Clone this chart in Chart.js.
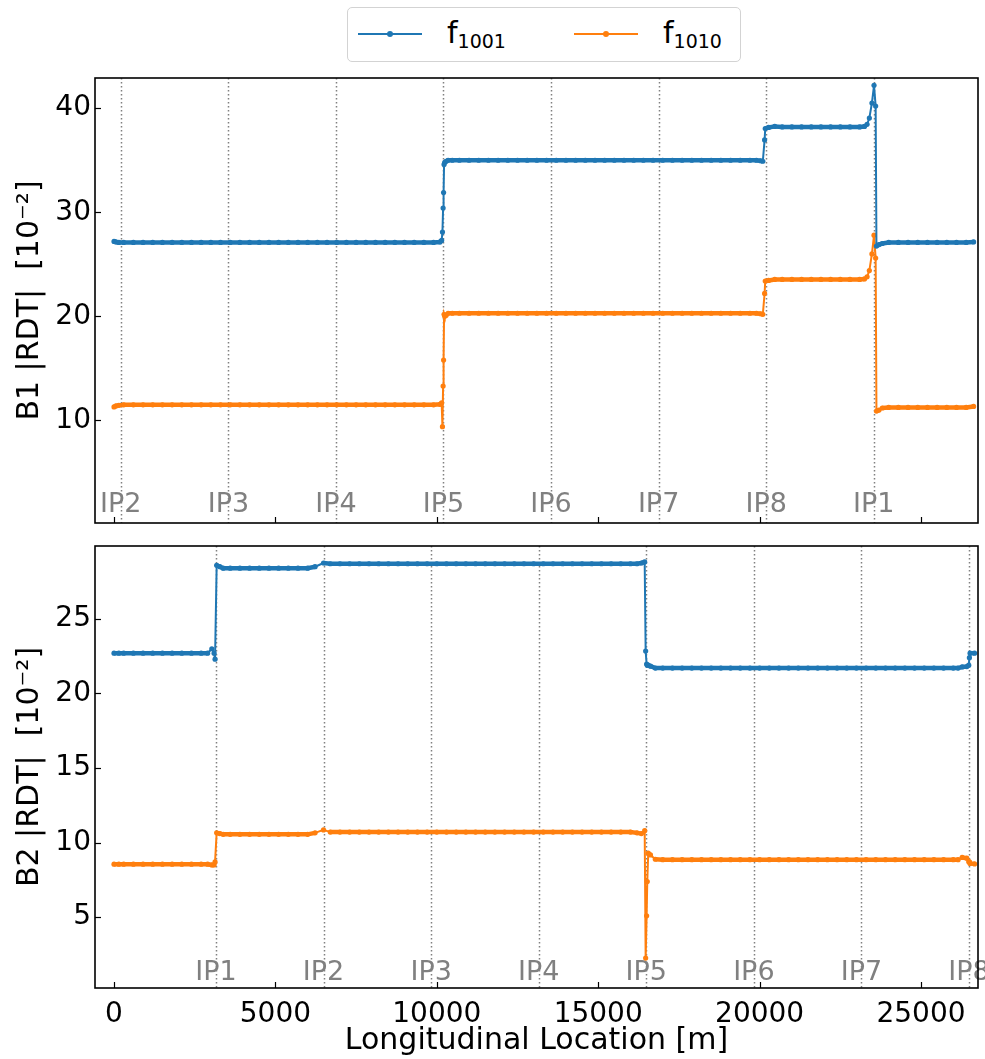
<!DOCTYPE html>
<html>
<head>
<meta charset="utf-8">
<script src="https://cdn.jsdelivr.net/npm/chart.js@4.4.1/dist/chart.umd.min.js"></script>
<style>
    body { margin: 0; background: #fff; }
    #fig { position: relative; width: 985px; height: 1059px; overflow: hidden; font-family: "DejaVu Sans"; }
    #topChart { position: absolute; left: 0; top: 70px; }
    #botChart { position: absolute; left: 0; top: 530px; }
    .legend { position: absolute; left: 347px; top: 7px; width: 392px; height: 53px; border: 1px solid #d3d3d3; border-radius: 5px; box-sizing: content-box; }
    .sample { position: absolute; top: 25px; width: 64px; height: 2px; }
    .dot { position: absolute; left: 29px; top: -2px; width: 6px; height: 6px; border-radius: 50%; }
    .lab { position: absolute; top: 10px; font-size: 30px; line-height: 30px; color: #000; white-space: nowrap; }
    .lab span { font-size: 19px; position: relative; top: 5px; }
</style>
</head>
<body>
<div id="fig">
    <!-- legend -->
    <div class="legend">
        <div class="sample" style="left:10px;background:#1f77b4"><div class="dot" style="background:#1f77b4"></div></div>
        <div class="lab" style="left:99px">f<span>1001</span></div>
        <div class="sample" style="left:226px;background:#ff7f0e"><div class="dot" style="background:#ff7f0e"></div></div>
        <div class="lab" style="left:315px">f<span>1010</span></div>
    </div>
    <canvas id="topChart" width="985" height="460"></canvas>
    <canvas id="botChart" width="985" height="529"></canvas>
</div>

<script>
// longitudinal positions of the points (m) and the RDT amplitudes (1e-2)
const B1_S = [
    0, 60, 150, 300,
    600, 900, 1200, 1500, 1800, 2100, 2400, 2700, 3000, 3300, 3600, 3900, 4200, 4500, 4800, 5100, 5400, 5700, 6000, 6300, 6600, 6900, 7200, 7500, 7800, 8100, 8400, 8700, 9000, 9300, 9600, 9900,
    10100, 10150, 10175, 10195, 10210, 10225, 10245, 10290, 10350, 10480,
    10700, 11000, 11300, 11600, 11900, 12200, 12500, 12800, 13100, 13400, 13700, 14000, 14300, 14600, 14900, 15200, 15500, 15800, 16100, 16400, 16700, 17000, 17300, 17600, 17900, 18200, 18500, 18800, 19100, 19400, 19700,
    19900, 20025, 20100, 20155, 20175, 20280, 20470,
    20700, 21000, 21300, 21600, 21900, 22200, 22500, 22800, 23100,
    23250, 23330, 23400, 23480, 23545, 23595, 23620, 23700, 23800,
    24000, 24300, 24600, 24900, 25200, 25500, 25800, 26100, 26400, 26630
]
const B1_F1001 = [
    27.2, 27.15, 27.1, 27.1,
    27.1, 27.1, 27.1, 27.1, 27.1, 27.1, 27.1, 27.1, 27.1, 27.1, 27.1, 27.1, 27.1, 27.1, 27.1, 27.1, 27.1, 27.1, 27.1, 27.1, 27.1, 27.1, 27.1, 27.1, 27.1, 27.1, 27.1, 27.1, 27.1, 27.1, 27.1, 27.1,
    27.15, 27.3, 28.1, 30.4, 31.9, 34.6, 34.8, 34.9, 35.0, 35.0,
    35.0, 35.0, 35.0, 35.0, 35.0, 35.0, 35.0, 35.0, 35.0, 35.0, 35.0, 35.0, 35.0, 35.0, 35.0, 35.0, 35.0, 35.0, 35.0, 35.0, 35.0, 35.0, 35.0, 35.0, 35.0, 35.0, 35.0, 35.0, 35.0, 35.0, 35.0,
    35.0, 34.95, 34.9, 36.95, 38.05, 38.15, 38.25,
    38.2, 38.2, 38.2, 38.2, 38.2, 38.2, 38.2, 38.2, 38.2,
    38.25, 38.45, 39.05, 40.5, 42.2, 40.2, 26.75, 26.9, 27.0,
    27.1, 27.1, 27.1, 27.1, 27.1, 27.1, 27.1, 27.1, 27.1, 27.15
]
const B1_F1010 = [
    11.3, 11.4, 11.45, 11.5,
    11.5, 11.5, 11.5, 11.5, 11.5, 11.5, 11.5, 11.5, 11.5, 11.5, 11.5, 11.5, 11.5, 11.5, 11.5, 11.5, 11.5, 11.5, 11.5, 11.5, 11.5, 11.5, 11.5, 11.5, 11.5, 11.5, 11.5, 11.5, 11.5, 11.5, 11.5, 11.5,
    11.55, 11.7, 9.4, 13.3, 15.8, 20.2, 20.0, 20.1, 20.3, 20.3,
    20.3, 20.3, 20.3, 20.3, 20.3, 20.3, 20.3, 20.3, 20.3, 20.3, 20.3, 20.3, 20.3, 20.3, 20.3, 20.3, 20.3, 20.3, 20.3, 20.3, 20.3, 20.3, 20.3, 20.3, 20.3, 20.3, 20.3, 20.3, 20.3, 20.3, 20.3,
    20.3, 20.25, 20.2, 22.2, 23.4, 23.45, 23.55,
    23.55, 23.55, 23.55, 23.55, 23.55, 23.55, 23.55, 23.55, 23.55,
    23.6, 23.8, 24.4, 26.0, 27.8, 25.6, 10.9, 11.0, 11.2,
    11.25, 11.25, 11.25, 11.25, 11.25, 11.25, 11.25, 11.25, 11.25, 11.35
]

const B2_S = [
    0, 150, 300, 600, 900, 1200, 1500, 1800, 2100, 2400, 2700,
    2900, 3030, 3100, 3130, 3180, 3280, 3380,
    3600, 3900, 4200, 4500, 4800, 5100, 5400, 5700, 6000,
    6230, 6490,
    6700, 7000, 7300, 7600, 7900, 8200, 8500, 8800, 9100, 9400, 9700, 10000, 10300, 10600, 10900, 11200, 11500, 11800, 12100, 12400, 12700, 13000, 13300, 13600, 13900, 14200, 14500, 14800, 15100, 15400, 15700, 16000,
    16200, 16340, 16440, 16470, 16500, 16520, 16550, 16620, 16770,
    17000, 17300, 17600, 17900, 18200, 18500, 18800, 19100, 19400, 19700, 20000, 20300, 20600, 20900, 21200, 21500, 21800, 22100, 22400, 22700, 23000, 23300, 23600, 23900, 24200, 24500, 24800, 25100, 25400, 25700, 26000,
    26150, 26275, 26420, 26480, 26500, 26520, 26660
]
const B2_F1001 = [
    22.7, 22.7, 22.7, 22.7, 22.7, 22.7, 22.7, 22.7, 22.7, 22.7, 22.7,
    22.7, 23.0, 22.7, 22.3, 28.6, 28.5, 28.4,
    28.4, 28.4, 28.4, 28.4, 28.4, 28.4, 28.4, 28.4, 28.4,
    28.5, 28.75,
    28.7, 28.7, 28.7, 28.7, 28.7, 28.7, 28.7, 28.7, 28.7, 28.7, 28.7, 28.7, 28.7, 28.7, 28.7, 28.7, 28.7, 28.7, 28.7, 28.7, 28.7, 28.7, 28.7, 28.7, 28.7, 28.7, 28.7, 28.7, 28.7, 28.7, 28.7, 28.7,
    28.7, 28.75, 28.82, 22.84, 21.97, 21.9, 21.9, 21.83, 21.7,
    21.7, 21.7, 21.7, 21.7, 21.7, 21.7, 21.7, 21.7, 21.7, 21.7, 21.7, 21.7, 21.7, 21.7, 21.7, 21.7, 21.7, 21.7, 21.7, 21.7, 21.7, 21.7, 21.7, 21.7, 21.7, 21.7, 21.7, 21.7, 21.7, 21.7, 21.7,
    21.7, 21.78, 21.8, 21.9, 22.4, 22.7, 22.7
]
const B2_F1010 = [
    8.55, 8.55, 8.55, 8.55, 8.55, 8.55, 8.55, 8.55, 8.55, 8.55, 8.55,
    8.55, 8.5, 8.5, 8.7, 10.65, 10.6, 10.55,
    10.55, 10.55, 10.55, 10.55, 10.55, 10.55, 10.55, 10.55, 10.55,
    10.65, 10.85,
    10.7, 10.7, 10.7, 10.7, 10.7, 10.7, 10.7, 10.7, 10.7, 10.7, 10.7, 10.7, 10.7, 10.7, 10.7, 10.7, 10.7, 10.7, 10.7, 10.7, 10.7, 10.7, 10.7, 10.7, 10.7, 10.7, 10.7, 10.7, 10.7, 10.7, 10.7, 10.7,
    10.65, 10.6, 10.8, 2.25, 5.09, 7.38, 9.29, 9.17, 8.88,
    8.85, 8.85, 8.85, 8.85, 8.85, 8.85, 8.85, 8.85, 8.85, 8.85, 8.85, 8.85, 8.85, 8.85, 8.85, 8.85, 8.85, 8.85, 8.85, 8.85, 8.85, 8.85, 8.85, 8.85, 8.85, 8.85, 8.85, 8.85, 8.85, 8.85, 8.85,
    8.85, 9.0, 8.95, 8.72, 8.7, 8.6, 8.57
]

// interaction points for each beam
const B1_IP_S = [211, 3543, 6875, 10207, 13539, 16871, 20203, 23535]
const B1_IP_NAMES = ['IP2', 'IP3', 'IP4', 'IP5', 'IP6', 'IP7', 'IP8', 'IP1']
const B2_IP_S = [3160, 6492, 9825, 13157, 16490, 19822, 23155, 26487]
const B2_IP_NAMES = ['IP1', 'IP2', 'IP3', 'IP4', 'IP5', 'IP6', 'IP7', 'IP8']

// ticks
const X_TICKS = [0, 5000, 10000, 15000, 20000, 25000]
const B1_Y_TICKS = [10, 20, 30, 40]
const B2_Y_TICKS = [5, 10, 15, 20, 25]

const BLUE = '#1f77b4'
const ORANGE = '#ff7f0e'
const FONT = 'DejaVu Sans'

const series = (s, v) => s.map((x, i) => ({ x: x, y: v[i] }))

// dotted IP lines + labels, black frame and inward ticks
const ipPlugin = {
    id: 'ipMarks',
    beforeDatasetsDraw(chart, args, opts) {
        const { ctx, chartArea: a, scales: { x } } = chart
        ctx.save()
        ctx.fillStyle = '#808080'
        ctx.font = '27px "' + FONT + '"'
        ctx.textAlign = 'center'
        ctx.textBaseline = 'alphabetic'
        opts.names.forEach((n, i) => {
            ctx.fillText(n, x.getPixelForValue(opts.pos[i]), a.bottom - opts.gap)
        })
        ctx.strokeStyle = '#808080'
        ctx.lineWidth = 1.5
        ctx.setLineDash([1.5, 2.5])
        opts.pos.forEach(s => {
            const px = Math.round(x.getPixelForValue(s)) + 0.5
            ctx.beginPath()
            ctx.moveTo(px, a.top)
            ctx.lineTo(px, a.bottom)
            ctx.stroke()
        })
        ctx.restore()
    },
    afterDraw(chart, args, opts) {
        const { ctx, chartArea: a, scales: { x, y } } = chart
        ctx.save()
        ctx.strokeStyle = '#000'
        ctx.lineWidth = 1.2
        X_TICKS.forEach(v => {
            const px = Math.round(x.getPixelForValue(v)) + 0.5
            ctx.beginPath(); ctx.moveTo(px, a.bottom); ctx.lineTo(px, a.bottom - 6); ctx.stroke()
        })
        opts.yTicks.forEach(v => {
            const py = Math.round(y.getPixelForValue(v)) + 0.5
            ctx.beginPath(); ctx.moveTo(a.left, py); ctx.lineTo(a.left + 6, py); ctx.stroke()
        })
        ctx.lineWidth = 1.6
        ctx.strokeRect(a.left, a.top, a.right - a.left, a.bottom - a.top)
        ctx.restore()
    }
}

function makeChart(id, s, f1001, f1010, cfg) {
    // flat runs look like a thick band of markers, jumps are thin lines
    const segWidth = c => Math.abs(c.p1.y - c.p0.y) < 2 ? 4.5 : 2
    return new Chart(document.getElementById(id), {
        type: 'line',
        data: {
            datasets: [
                { label: 'f1001', data: series(s, f1001), borderColor: BLUE, backgroundColor: BLUE, segment: { borderWidth: segWidth } },
                { label: 'f1010', data: series(s, f1010), borderColor: ORANGE, backgroundColor: ORANGE, segment: { borderWidth: segWidth } }
            ]
        },
        options: {
            responsive: false,
            devicePixelRatio: 1,
            animation: false,
            events: [],
            layout: { padding: cfg.padding },
            elements: {
                line: { borderWidth: 2, tension: 0 },
                point: { radius: 2.6, borderWidth: 0, hoverRadius: 0 }
            },
            plugins: {
                legend: { display: false },
                tooltip: { enabled: false },
                ipMarks: { pos: cfg.ipPos, names: cfg.ipNames, gap: cfg.gap, yTicks: cfg.yTicks }
            },
            scales: {
                x: {
                    type: 'linear',
                    min: -589,
                    max: 26766,
                    display: cfg.showX,
                    afterBuildTicks: sc => { sc.ticks = X_TICKS.map(v => ({ value: v })) },
                    afterFit: sc => {
                        sc.height = cfg.showX ? 71 : 0
                        sc.paddingLeft = 0
                        sc.paddingRight = 0
                    },
                    grid: { display: false, drawTicks: false },
                    border: { display: false },
                    ticks: { padding: 10, color: '#000', font: { family: FONT, size: 28 }, maxRotation: 0, callback: v => String(v) },
                    title: { display: true, text: 'Longitudinal Location [m]', color: '#000', font: { family: FONT, size: 30 }, padding: { top: 0, bottom: 0 } }
                },
                y: {
                    min: cfg.yMin,
                    max: cfg.yMax,
                    afterBuildTicks: sc => { sc.ticks = cfg.yTicks.map(v => ({ value: v })) },
                    afterFit: sc => {
                        sc.width = 95
                        sc.paddingTop = 0
                        sc.paddingBottom = 0
                    },
                    grid: { display: false, drawTicks: false },
                    border: { display: false },
                    ticks: { padding: 4, color: '#000', font: { family: FONT, size: 28 }, callback: v => String(v) },
                    title: { display: true, text: cfg.yTitle, color: '#000', font: { family: FONT, size: 30 }, padding: { top: 12, bottom: 0 } }
                }
            }
        },
        plugins: [ipPlugin]
    })
}

// top: beam 1
makeChart('topChart', B1_S, B1_F1001, B1_F1010, {
    padding: { top: 8, right: 7, bottom: 7, left: 0 },
    showX: false,
    yMin: 0.15, yMax: 42.9, yTicks: B1_Y_TICKS,
    yTitle: 'B1 |RDT|  [10\u207B\u00B2]',
    ipPos: B1_IP_S, ipNames: B1_IP_NAMES, gap: 11
})

// bottom: beam 2
makeChart('botChart', B2_S, B2_F1001, B2_F1010, {
    padding: { top: 16, right: 7, bottom: 0, left: 0 },
    showX: true,
    yMin: 0.245, yMax: 29.89, yTicks: B2_Y_TICKS,
    yTitle: 'B2 |RDT|  [10\u207B\u00B2]',
    ipPos: B2_IP_S, ipNames: B2_IP_NAMES, gap: 8
})
</script>
</body>
</html>
